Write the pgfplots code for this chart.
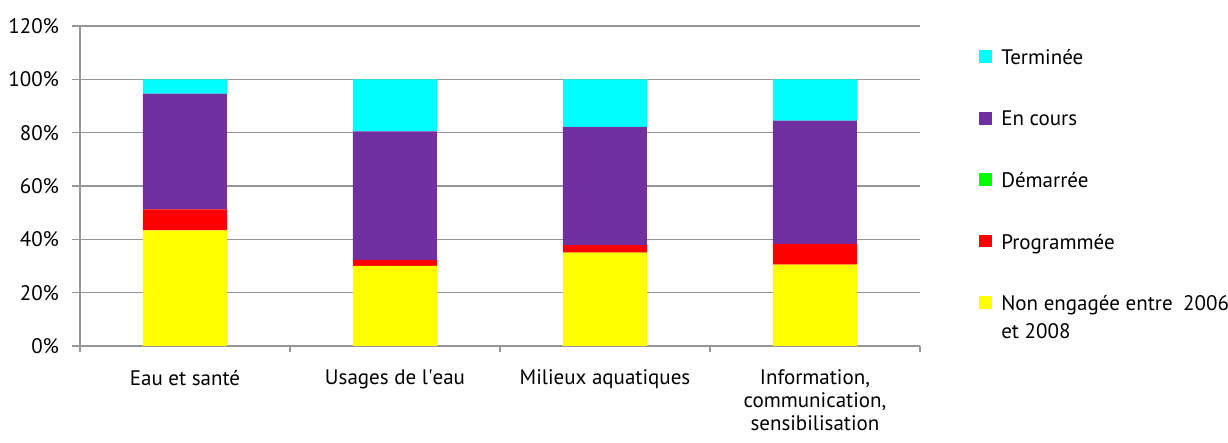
\documentclass[border=0pt]{standalone}
\usepackage{pgfplots}
\pgfplotsset{compat=1.18}
\usepackage{fontspec}
\setmainfont{PT Sans}
\definecolor{cTerm}{HTML}{00FFFF}
\definecolor{cCours}{HTML}{7030A0}
\definecolor{cDem}{HTML}{00FF00}
\definecolor{cProg}{HTML}{FF0000}
\definecolor{cNon}{HTML}{FFFF00}
\definecolor{cGrid}{HTML}{969696}
\pgfplotsset{sq/.style={legend image code/.code={\fill[##1] (0pt,-2.2pt) rectangle (6.4pt,4.2pt); \path (9.2pt,0pt);}}}
\begin{document}
\begin{tikzpicture}
\useasboundingbox (-40pt,-48.5pt) rectangle (574pt,173pt);
\begin{axis}[
  scale only axis, width=420pt, height=160pt,
  ybar stacked, bar width=0.4,
  xmin=-0.5, xmax=3.5, ymin=0, ymax=120,
  axis x line*=bottom, axis y line*=left,
  axis line style={draw=cGrid, line width=0.7pt, -},
  ymajorgrids, grid style={draw=cGrid, line width=0.7pt},
  ytick={0,20,...,120},
  yticklabel={\pgfmathprintnumber{\tick}\%},
  /pgf/number format/assume math mode=true,
  ytick style={draw=cGrid, line width=0.7pt},
  tick align=outside, major tick length=4pt,
  yticklabel style={font=\fontsize{10.5}{12}\selectfont, xshift=-3pt},
  xtick={0,1,2,3},
  xticklabels={Eau et santé, Usages de l\textquotesingle eau, Milieux aquatiques, {Information,\\communication,\\sensibilisation}},
  xticklabel style={font=\fontsize{10.5}{11.5}\selectfont, align=center, yshift=-4.5pt},
  xtick style={draw=none},
  extra x ticks={-0.5,0.5,1.5,2.5,3.5},
  extra x tick labels={},
  extra x tick style={xtick style={draw=cGrid, line width=0.7pt}, major tick length=3pt, grid=none},
  legend style={draw=none, fill=none, at={(1.0625,0.952)}, anchor=north west,
    font=\fontsize{10.5}{14}\selectfont, row sep=17.7pt},
  legend cell align=left,
  reverse legend,
]
\addplot[sq, fill=cNon, draw=none] coordinates {(0,43.4) (1,30.0) (2,35.0) (3,30.5)};
\addplot[sq, fill=cProg, draw=none] coordinates {(0,7.8) (1,2.3) (2,2.8) (3,7.8)};
\addplot[sq, fill=cDem, draw=none] coordinates {(0,0) (1,0) (2,0) (3,0)};
\addplot[sq, fill=cCours, draw=none] coordinates {(0,43.4) (1,48.2) (2,44.4) (3,46.2)};
\addplot[sq, fill=cTerm, draw=none] coordinates {(0,5.4) (1,19.5) (2,17.8) (3,15.5)};
\legend{{\vtop{\baselineskip=14pt\hbox{Non engagée entre\enspace 2006}\hbox{et 2008}}}, Programmée, Démarrée, En cours, Terminée}
\end{axis}
\end{tikzpicture}
\end{document}
